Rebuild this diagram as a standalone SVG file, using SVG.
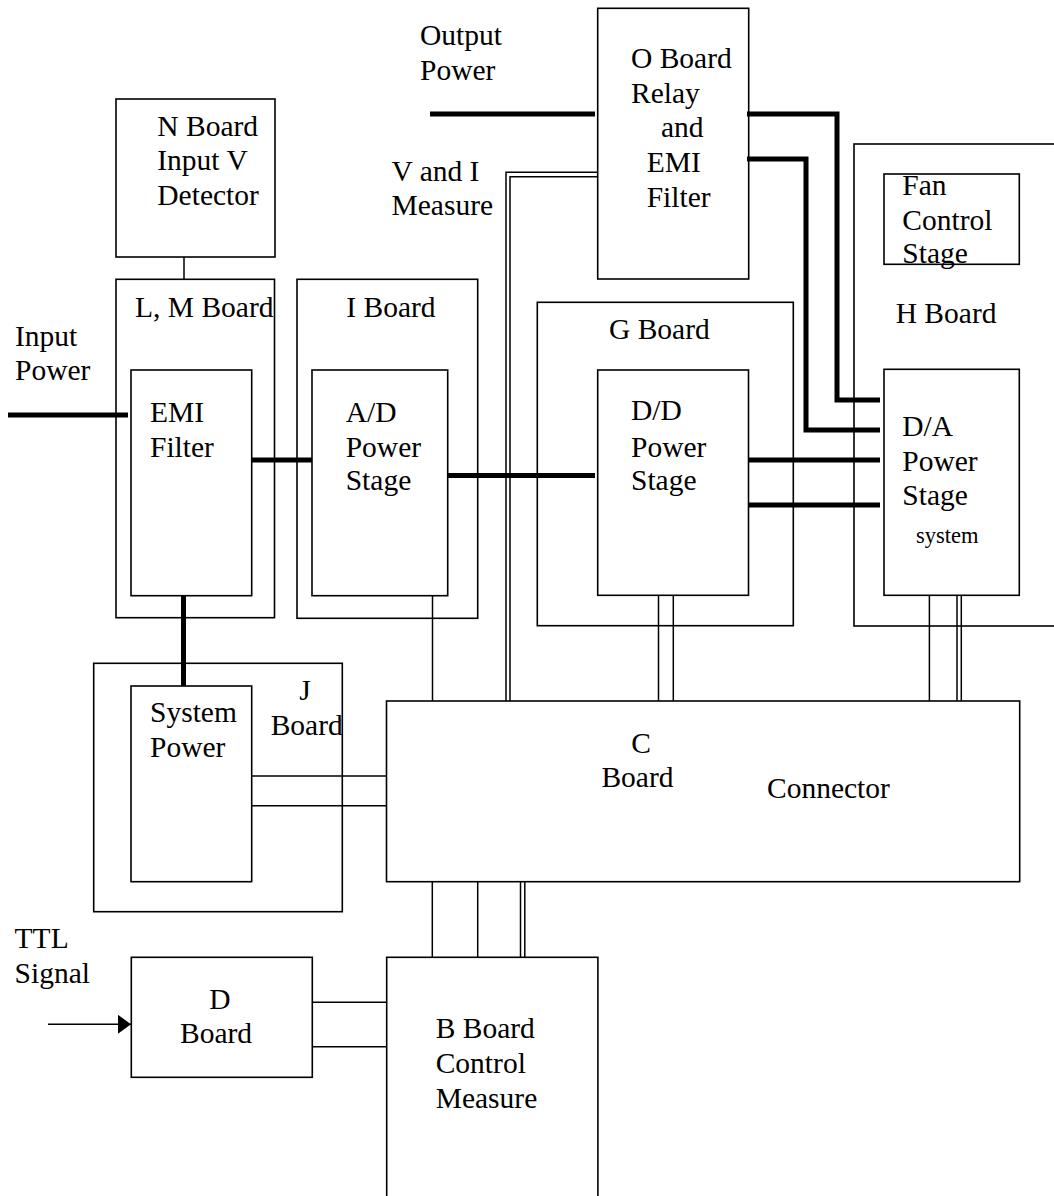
<svg xmlns="http://www.w3.org/2000/svg" width="1054" height="1196" viewBox="0 0 1054 1196">
<style>
  .box { fill: none; stroke: #000; stroke-width: 1.6; }
  .thin { fill: none; stroke: #000; stroke-width: 1.5; }
  .thick { fill: none; stroke: #000; stroke-width: 5; stroke-linejoin: miter; }
  text { font-family: "Liberation Serif", "Times New Roman", serif; font-size: 29.5px; fill: #000; }
  .small { font-size: 22.5px; }
</style>
<defs>
  <marker id="arrow" markerUnits="userSpaceOnUse" markerWidth="13" markerHeight="19" refX="13" refY="9.5" orient="auto">
    <path d="M0,0 L13,9.5 L0,19 z" fill="#000"/>
  </marker>
</defs>
<rect width="1054" height="1196" fill="#fff"/>

<g id="connectors">
  <!-- N to L,M -->
  <line class="thin" x1="184" y1="257" x2="184" y2="279"/>
  <!-- Input power -->
  <line class="thick" x1="8" y1="415" x2="128" y2="415"/>
  <!-- EMI to A/D -->
  <line class="thick" x1="252" y1="460" x2="312" y2="460"/>
  <!-- A/D to D/D -->
  <line class="thick" x1="448" y1="475.5" x2="595" y2="475.5"/>
  <!-- D/D to D/A -->
  <line class="thick" x1="748" y1="460" x2="880" y2="460"/>
  <line class="thick" x1="748" y1="505" x2="880" y2="505"/>
  <!-- Output power -->
  <line class="thick" x1="430" y1="114" x2="595" y2="114"/>
  <!-- O board to D/A -->
  <path class="thick" d="M747,114 H837 V400 H880"/>
  <path class="thick" d="M747,159 H806 V430 H880"/>
  <!-- V and I measure double line -->
  <path class="thin" d="M598,172.3 H506 V701"/>
  <path class="thin" d="M598,176.7 H510 V701"/>
  <!-- EMI filter to System Power -->
  <line class="thick" x1="183.5" y1="596" x2="183.5" y2="686"/>
  <!-- A/D to C -->
  <line class="thin" x1="432.5" y1="596" x2="432.5" y2="701"/>
  <!-- D/D to C -->
  <line class="thin" x1="658.5" y1="596" x2="658.5" y2="701"/>
  <line class="thin" x1="673.3" y1="596" x2="673.3" y2="701"/>
  <!-- D/A to C -->
  <line class="thin" x1="929.4" y1="595" x2="929.4" y2="701"/>
  <line class="thin" x1="957" y1="595" x2="957" y2="701"/>
  <line class="thin" x1="961.3" y1="595" x2="961.3" y2="701"/>
  <!-- System Power to C -->
  <line class="thin" x1="252" y1="776" x2="387" y2="776"/>
  <line class="thin" x1="252" y1="805.7" x2="387" y2="805.7"/>
  <!-- C to B -->
  <line class="thin" x1="432.3" y1="882" x2="432.3" y2="957"/>
  <line class="thin" x1="477.7" y1="882" x2="477.7" y2="957"/>
  <line class="thin" x1="520.5" y1="882" x2="520.5" y2="957"/>
  <line class="thin" x1="524.8" y1="882" x2="524.8" y2="957"/>
  <!-- D to B -->
  <line class="thin" x1="312" y1="1002.3" x2="387" y2="1002.3"/>
  <line class="thin" x1="312" y1="1046.7" x2="387" y2="1046.7"/>
  <!-- TTL signal arrow -->
  <line class="thin" x1="48" y1="1024.3" x2="131" y2="1024.3" marker-end="url(#arrow)"/>
</g>

<g id="labels">
  <text x="420" y="45">Output</text>
  <text x="420" y="80">Power</text>
  <text x="391.5" y="181">V and I</text>
  <text x="391.5" y="215">Measure</text>
  <text x="15" y="345.7">Input</text>
  <text x="15" y="380">Power</text>
  <text x="14.6" y="948.3">TTL</text>
  <text x="14.6" y="983.3">Signal</text>
</g>

<g id="n-board">
  <rect class="box" x="116" y="99" width="159" height="158"/>
  <text x="157.3" y="136">N Board</text>
  <text x="157.3" y="170">Input V</text>
  <text x="157.3" y="205">Detector</text>
</g>

<g id="lm-board">
  <rect class="box" x="116" y="279.3" width="158.5" height="338.4"/>
  <text x="135" y="316.7">L, M Board</text>
</g>

<g id="emi-filter">
  <rect class="box" x="131" y="370" width="120.7" height="225.7"/>
  <text x="150" y="421.7">EMI</text>
  <text x="150" y="456.7">Filter</text>
</g>

<g id="i-board">
  <rect class="box" x="297" y="279.3" width="180.7" height="339"/>
  <text x="346.3" y="316.7">I Board</text>
</g>

<g id="ad-stage">
  <rect class="box" x="312" y="370" width="135.7" height="225.7"/>
  <text x="345.7" y="421.7">A/D</text>
  <text x="345.7" y="456.7">Power</text>
  <text x="345.7" y="490">Stage</text>
</g>

<g id="o-board">
  <rect class="box" x="597.7" y="8.3" width="151" height="270.7"/>
  <text x="631" y="68">O Board</text>
  <text x="631" y="103">Relay</text>
  <text x="661" y="137">and</text>
  <text x="646.7" y="172">EMI</text>
  <text x="646.7" y="207">Filter</text>
</g>

<g id="g-board">
  <rect class="box" x="537.3" y="302.3" width="256" height="323.4"/>
  <text x="609" y="339">G Board</text>
</g>

<g id="dd-stage">
  <rect class="box" x="597.7" y="370" width="150.8" height="225.3"/>
  <text x="631" y="420">D/D</text>
  <text x="631" y="456.7">Power</text>
  <text x="631" y="490">Stage</text>
</g>

<g id="h-board">
  <rect class="box" x="854" y="144" width="230" height="482"/>
  <text x="895.7" y="323.3">H Board</text>
</g>

<g id="fan-control">
  <rect class="box" x="884" y="174" width="135.3" height="90.3"/>
  <text x="902.3" y="195">Fan</text>
  <text x="902.3" y="230">Control</text>
  <text x="902.3" y="263.3">Stage</text>
</g>

<g id="da-stage">
  <rect class="box" x="884" y="369.3" width="135.3" height="226"/>
  <text x="902.3" y="436">D/A</text>
  <text x="902.3" y="470.7">Power</text>
  <text x="902.3" y="505">Stage</text>
  <text class="small" x="916" y="543">system</text>
</g>

<g id="j-board">
  <rect class="box" x="93.7" y="663.3" width="248.6" height="248.4"/>
  <text x="305" y="700" text-anchor="middle">J</text>
  <text x="270.7" y="735">Board</text>
</g>

<g id="system-power">
  <rect class="box" x="131" y="686" width="120.7" height="195.7"/>
  <text x="150" y="722.3">System</text>
  <text x="150" y="757.3">Power</text>
</g>

<g id="c-board">
  <rect class="box" x="386.5" y="701" width="633.2" height="180.7"/>
  <text x="641" y="752.7" text-anchor="middle">C</text>
  <text x="601.4" y="787.3">Board</text>
  <text x="767" y="798.3">Connector</text>
</g>

<g id="d-board">
  <rect class="box" x="131.3" y="957.3" width="181" height="120"/>
  <text x="220" y="1009" text-anchor="middle">D</text>
  <text x="216" y="1043.3" text-anchor="middle">Board</text>
</g>

<g id="b-board">
  <rect class="box" x="386.7" y="957.3" width="211.2" height="260"/>
  <text x="435.7" y="1038.3">B Board</text>
  <text x="435.7" y="1073.3">Control</text>
  <text x="435.7" y="1108.3">Measure</text>
</g>
</svg>
